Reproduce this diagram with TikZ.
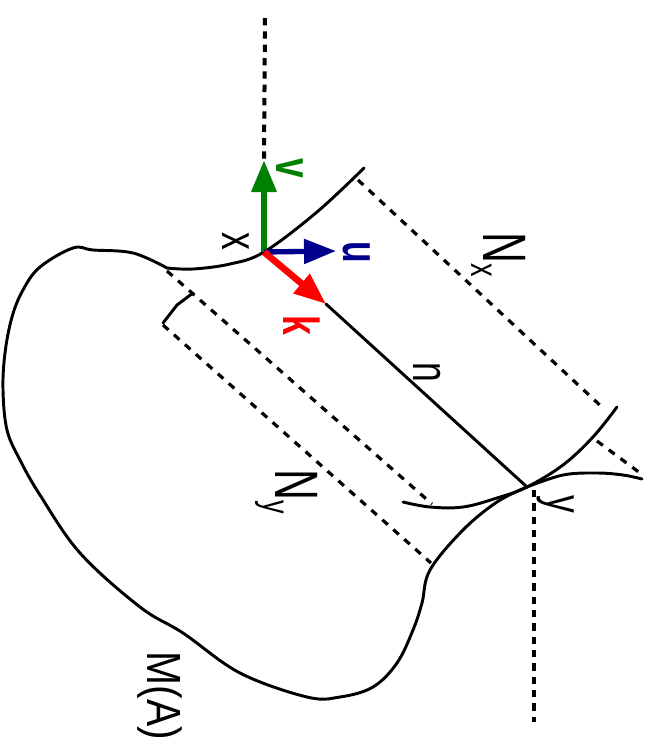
\documentclass[tikz,border=0pt]{standalone}
\usepackage{fontspec}
\setmainfont{Liberation Sans}
\usetikzlibrary{arrows.meta}
\newcommand{\squeezed}[2][.7]{\scalebox{#1}[1]{#2}}
\newcommand{\bigsub}[2]{\fontsize{46}{46}\selectfont\squeezed{#1}\raisebox{-9pt}{\fontsize{29}{29}\selectfont\squeezed{#2}}}
\tikzset{
  curveline/.style={line width=2.2pt,line cap=round,line join=round},
  dashline/.style={line width=2.4pt,dash pattern=on 5.5pt off 5.5pt},
  axisdash/.style={line width=3pt,dash pattern=on 5.5pt off 4.5pt},
  axisarrow/.style={line width=5pt,-{Triangle[length=24pt,width=18pt]}},
  sidelabel/.style={rotate=-90,inner sep=0pt,font=\fontsize{38}{38}\selectfont},
  framelabel/.style={sidelabel,font=\fontsize{38}{38}\selectfont\bfseries},
}
\begin{document}
\begin{tikzpicture}[x=0.75pt,y=-0.75pt]
  \useasboundingbox (0,0) rectangle (654,740);
  \coordinate (xpt) at (264,252);
  \coordinate (ypt) at (527,487);
  \coordinate (vtip) at (264,160);
  \coordinate (utip) at (336,251);
  \coordinate (ktip) at (326,304);
  % boundary of the manifold
  \draw[curveline] plot[smooth,tension=.6] coordinates {(167,268) (133,253) (93,250) (73,248) (40,267) (23,290) (12,317) (5,353) (3,390) (7,430) (20,460) (40,495) (80,553) (140,607) (183,633) (240,673) (307,697) (340,697) (373,687) (397,663) (413,630) (422,603) (430,570) (463,530) (497,502) (ypt)};
  \draw[curveline] plot[smooth,tension=.6] coordinates {(167,268) (193,269) (230,264) (xpt) (317,212) (364,168)};
  \draw[curveline] plot[smooth,tension=.6] coordinates {(403,502) (430,507) (463,507) (497,498) (ypt) (563,465) (593,437) (617,407)};
  \draw[curveline] plot[smooth,tension=.6] coordinates {(ypt) (563,475) (597,473) (623,475) (642,479)};
  % strips
  \draw[dashline] (358,180) -- (603,408);
  \draw[dashline] (597,441) -- (640,473);
  \draw[dashline] (167,271) -- (432,504);
  \draw[dashline] (163,325) -- (431,563);
  \draw[curveline] (193,293) -- (177,305) -- (163,323);
  % vertical axis
  \draw[axisdash] (265,18) -- (vtip);
  \draw[axisdash] (534,490) -- (534,722);
  \draw[curveline] (ktip) -- (ypt);
  % frame
  \draw[axisarrow,green!50!black] (xpt) -- (vtip);
  \draw[axisarrow,blue!55!black,line width=4pt] (xpt) -- (utip);
  \draw[axisarrow,red] (xpt) -- (ktip);
  % labels
  \node[framelabel,green!50!black] (vlabel) at (290,168) {\squeezed{v}};
  \node[framelabel,blue!55!black] (ulabel) at (357,252) {\squeezed{u}};
  \node[framelabel,red] (klabel) at (302,325) {\squeezed{k}};
  \node[sidelabel] (xlabel) at (236,241) {\squeezed{x}};
  \node[sidelabel] (ylabel) at (556,504) {\squeezed{y}};
  \node[sidelabel] (nlabel) at (427,372) {\squeezed{n}};
  \node[sidelabel] (nxlabel) at (499,255) {\bigsub{N}{x}};
  \node[sidelabel] (nylabel) at (287,492) {\bigsub{N}{y}};
  \node[sidelabel,font=\fontsize{36}{36}\selectfont] (malabel) at (160,696) {\squeezed[.85]{M(A)}};
\end{tikzpicture}
\end{document}
